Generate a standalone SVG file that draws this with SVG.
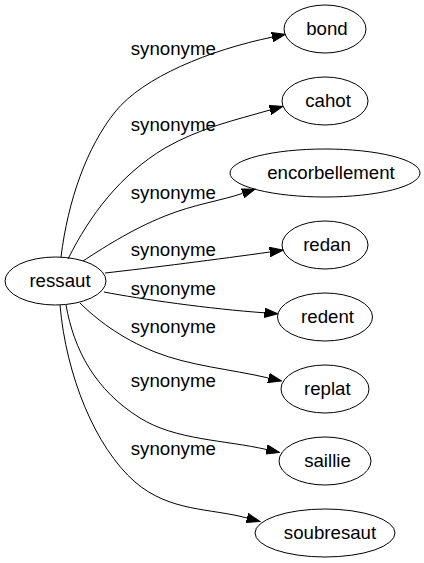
<svg xmlns="http://www.w3.org/2000/svg" width="424" height="563" viewBox="0 0 424 563">
<style>
.node ellipse{fill:none;stroke:#000;stroke-width:1}
text{font-family:"Liberation Sans",Arial,sans-serif;font-size:18.67px;fill:#000;text-anchor:middle}
.edge path{fill:none;stroke:#000;stroke-width:1}
</style>
<defs>
<marker id="arr" markerUnits="userSpaceOnUse" markerWidth="14" markerHeight="10" viewBox="0 -5 14 10" refX="0" refY="0" orient="auto"><path d="M0,-4.7L13.3,0L0,4.7z" fill="#000" stroke="#000" stroke-width="1"/></marker>
</defs>
<rect width="424" height="563" fill="#fff"/>
<g id="edges" class="edge">
<path d="M61,257 C68,200 87,147 115,112 C143,77 210,50 272.2,37.1" marker-end="url(#arr)"/>
<path d="M68,259 C90,215 120,175 165,148 C200,128 235,120 270,110" marker-end="url(#arr)"/>
<path d="M83,261 C100,250 130,230 165,216 C195,204 220,201 242.5,193.4" marker-end="url(#arr)"/>
<path d="M105,273 C150,268 220,259 269.8,252" marker-end="url(#arr)"/>
<path d="M104,292 C140,299 210,309 264.5,312.8" marker-end="url(#arr)"/>
<path d="M80,303 C95,318 120,338 155,352 C190,366 230,369 268.5,378" marker-end="url(#arr)"/>
<path d="M66,305 C74,350 95,390 140,418 C175,440 225,440 266.5,449.5" marker-end="url(#arr)"/>
<path d="M60,305 C66,375 95,447 135,482 C170,512 210,508 247,518" marker-end="url(#arr)"/>
<text x="173.3" y="54.5">synonyme</text>
<text x="173.3" y="131">synonyme</text>
<text x="173.3" y="199">synonyme</text>
<text x="173.3" y="255.5">synonyme</text>
<text x="173.3" y="295">synonyme</text>
<text x="173.3" y="333">synonyme</text>
<text x="173.3" y="387">synonyme</text>
<text x="173.3" y="455">synonyme</text>
</g>
<g id="ressaut" class="node"><ellipse cx="55.5" cy="281" rx="50.5" ry="24"/><text x="60" y="287">ressaut</text></g>
<g id="bond" class="node"><ellipse cx="325" cy="29" rx="41" ry="24"/><text x="327" y="35">bond</text></g>
<g id="cahot" class="node"><ellipse cx="325" cy="101" rx="43" ry="24"/><text x="328" y="107">cahot</text></g>
<g id="encorbellement" class="node"><ellipse cx="325" cy="173" rx="95" ry="24"/><text x="331" y="179">encorbellement</text></g>
<g id="redan" class="node"><ellipse cx="325" cy="245" rx="43" ry="24"/><text x="327" y="251">redan</text></g>
<g id="redent" class="node"><ellipse cx="325" cy="317" rx="47.5" ry="24"/><text x="327.5" y="323">redent</text></g>
<g id="replat" class="node"><ellipse cx="325" cy="389" rx="44" ry="24"/><text x="327.3" y="395">replat</text></g>
<g id="saillie" class="node"><ellipse cx="325" cy="461" rx="46" ry="24"/><text x="327.5" y="467">saillie</text></g>
<g id="soubresaut" class="node"><ellipse cx="325" cy="533" rx="70" ry="24"/><text x="330" y="539">soubresaut</text></g>
</svg>
